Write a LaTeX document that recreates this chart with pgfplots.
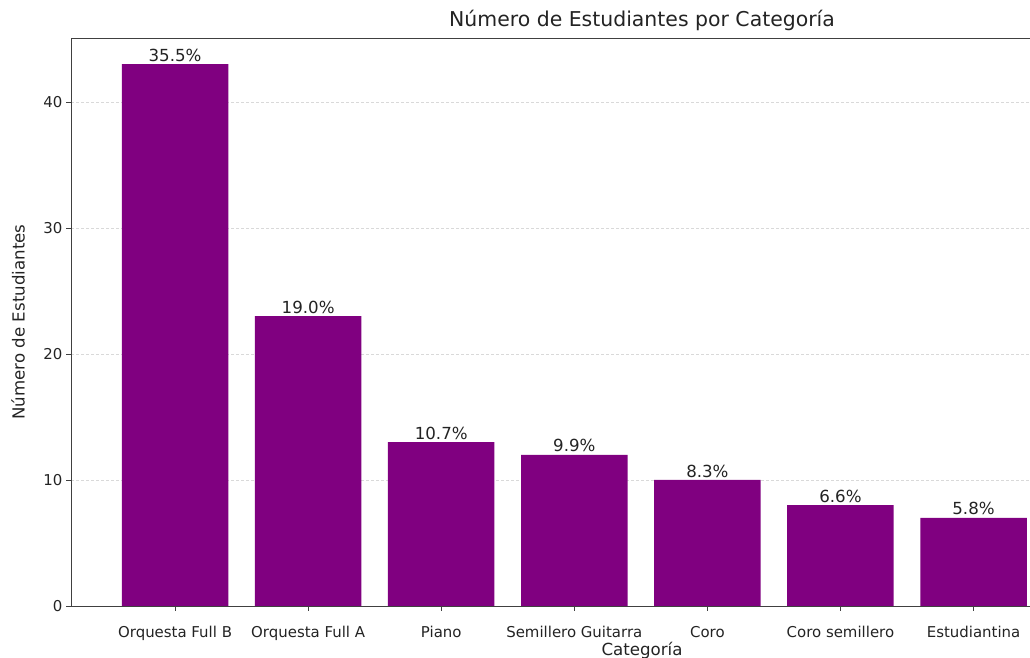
\documentclass[border=0pt]{standalone}
\usepackage{fontspec}
\setmainfont{DejaVu Sans}
\usepackage{pgfplots}
\usepackage{pgfplotstable}
\pgfplotsset{compat=1.18}
\definecolor{mplpurple}{RGB}{128,0,128}
\definecolor{txt}{RGB}{35,35,35}
\pgfplotstableread{
x y p
0 43 35.5
1 23 19.0
2 13 10.7
3 12 9.9
4 10 8.3
5 8 6.6
6 7 5.8
}\datatable
\begin{document}
\begin{tikzpicture}[x=1bp,y=1bp]
\useasboundingbox (0,0) rectangle (1030,658);
\clip (0,0) rectangle (1030,658);
\begin{axis}[
  at={(71bp,52bp)}, anchor=south west, scale only axis,
  width=1142bp, height=568bp,
  xmin=-0.782, xmax=7.80, ymin=0, ymax=45.08,
  ybar, bar width=0.8,
  xtick={0,1,2,3,4,5,6},
  xticklabels={Orquesta Full B, Orquesta Full A, Piano, Semillero Guitarra, Coro, Coro semillero, Estudiantina},
  ytick={0,10,20,30,40},
  xtick pos=bottom, ytick pos=left,
  tick align=outside, major tick length=5bp,
  tick style={black!75, line width=0.8bp},
  axis line style={black!75, line width=0.8bp},
  ymajorgrids, grid style={dash pattern=on 3bp off 2bp, black!15, line width=0.8bp},
  /pgf/number format/assume math mode=true,
  ticklabel style={font=\fontsize{15}{18}\selectfont, text=txt},
  xticklabel style={anchor=base, yshift=-27bp},
  title={Número de Estudiantes por Categoría},
  title style={at={(axis description cs:0.5,1)}, anchor=base, yshift=6bp, font=\fontsize{20.5}{24}\selectfont, text=txt},
  xlabel={Categoría},
  xlabel style={at={(axis description cs:0.5,0)}, anchor=base, yshift=-50bp, font=\fontsize{16.7}{20}\selectfont, text=txt},
  ylabel={Número de Estudiantes},
  ylabel style={at={(axis description cs:0,0.5)}, anchor=center, yshift=53bp, font=\fontsize{16.7}{20}\selectfont, text=txt},
  point meta=explicit,
  nodes near coords={\pgfmathprintnumber[fixed,fixed zerofill,precision=1,assume math mode=true]{\pgfplotspointmeta}\%},
  nodes near coords style={font=\fontsize{16.7}{20}\selectfont, text=txt, anchor=south, inner sep=2.5bp},
]
\addplot[fill=mplpurple, draw=none] table[x=x, y=y, meta=p] {\datatable};
\end{axis}
\end{tikzpicture}
\end{document}
